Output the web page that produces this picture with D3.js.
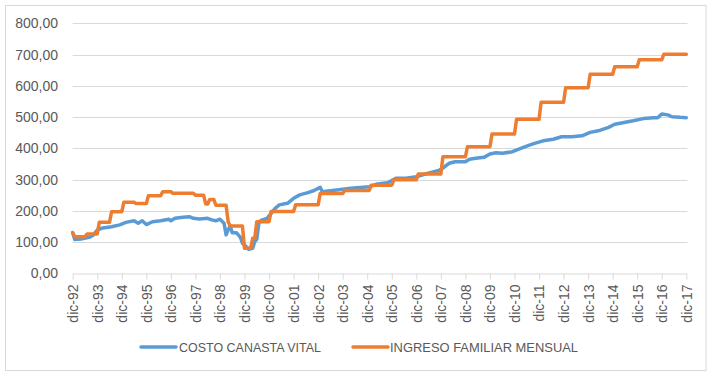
<!DOCTYPE html>
<html><head><meta charset="utf-8">
<script src="https://cdn.jsdelivr.net/npm/d3@7"></script>
<style>body{margin:0;background:#fff}svg{display:block}text{font-family:"Liberation Sans",Arial,sans-serif;fill:#595959}</style>
</head><body>
<svg id="c" width="718" height="378"></svg>
<script>
// Month index 0 = dic-92 ... 300 = dic-17
const tickLabels = ["dic-92","dic-93","dic-94","dic-95","dic-96","dic-97","dic-98","dic-99","dic-00","dic-01","dic-02","dic-03","dic-04","dic-05","dic-06","dic-07","dic-08","dic-09","dic-10","dic-11","dic-12","dic-13","dic-14","dic-15","dic-16","dic-17"];
const yTicks = [0,100,200,300,400,500,600,700,800];

// COSTO CANASTA VITAL (month index, value)
const costoMes = [0,1,4,8,10,12,14,19,23,26,30,32,34,36,39,43,47,48,50,54,57,59,62,66,68,70,72,74,75,76,77,78,80,82,83,84,86,88,89,90,91,92,95,97,99,101,105,108,111,115,118,121,122,126,132,136,145,149,154,158,163,168,172,179,181,184,187,192,194,197,201,204,207,210,215,220,225,230,235,239,244,249,253,257,262,265,269,274,279,284,286,288,291,293,297,300];
const costoValor = [130,108,110,115,122,138,144,149,155,163,168,160,168,156,165,168,173,168,176,179,181,176,174,176,171,168,173,160,123,139,152,130,130,115,96,91,77,80,101,109,160,169,176,192,208,219,224,240,251,258,265,275,261,264,269,272,277,286,290,304,304,309,317,329,337,352,357,357,365,368,371,382,386,384,389,402,414,424,429,437,437,440,451,456,467,477,482,488,495,498,498,510,507,501,499,498];

// INGRESO FAMILIAR MENSUAL (month where a new level starts, level)
const ingresoInicio = [0,1,7,13,19,25,31,37,44,49,60,65,67,70,76,77,84,88,90,97,109,121,133,146,157,169,181,193,205,217,229,241,253,265,277,289];
const ingresoNivel = [130,117,126,163,197,227,223,248,261,256,250,222,236,218,165,151,80,112,165,198,219,255,265,282,299,318,373,405,446,493,547,594,637,661,683,701];
const totalMeses = 300;

const svg = d3.select("#c");
svg.append("rect").attr("x",5.5).attr("y",5.5).attr("width",700.5).attr("height",365)
  .attr("fill","#fff").attr("stroke","#D9D9D9");

const x = d3.scaleLinear().domain([0,totalMeses]).range([72.7,686.3]);
const y = d3.scaleLinear().domain([0,800]).range([273.3,23.3]);

// gridlines
svg.append("g").selectAll("line").data(yTicks.filter(d=>d>0)).join("line")
  .attr("x1",72.7).attr("x2",687.5).attr("y1",d=>Math.round(y(d))+0.5).attr("y2",d=>Math.round(y(d))+0.5)
  .attr("stroke","#D9D9D9").attr("stroke-width",1);

// y labels
svg.append("g").selectAll("text").data(yTicks).join("text")
  .attr("x",58).attr("y",d=>y(d)).attr("dy","0.36em").attr("text-anchor","end")
  .style("font-size","14px").text(d=>d3.format(".2f")(d).replace(".",","));

// x axis
const xAxis = d3.axisBottom(x).tickValues(tickLabels.map((_,i)=>i*12))
  .tickFormat((d,i)=>tickLabels[i]).tickSize(6).tickSizeOuter(0);
const gx = svg.append("g").attr("transform","translate(0,273.5)").call(xAxis);
gx.select(".domain").attr("stroke","#D9D9D9");
gx.selectAll(".tick line").attr("stroke","#D9D9D9");
gx.selectAll(".tick text").attr("transform","rotate(-90)").attr("x",-11).attr("y",0).attr("dy","0.35em")
  .attr("text-anchor","end").style("font-size","14px").style("font-family","'Liberation Sans',Arial,sans-serif").attr("fill","#595959");

// series
const costo = costoMes.map((m,i)=>[m,costoValor[i]]);
const ingreso = d3.range(0,totalMeses+1).map(m=>{
  let v = ingresoNivel[0];
  for(let k=0;k<ingresoInicio.length;k++) if(ingresoInicio[k]<=m) v = ingresoNivel[k];
  return [m,v];
});
const line = d3.line().x(d=>x(d[0])).y(d=>y(d[1]));
svg.append("path").datum(costo).attr("d",line).attr("fill","none")
  .attr("stroke","#5B9BD5").attr("stroke-width",3.5).attr("stroke-linejoin","round").attr("stroke-linecap","round");
svg.append("path").datum(ingreso).attr("d",line).attr("fill","none")
  .attr("stroke","#ED7D31").attr("stroke-width",3.5).attr("stroke-linejoin","round").attr("stroke-linecap","round");

// legend
const legend = [
  {name:"COSTO CANASTA VITAL", color:"#5B9BD5", x1:141, tx:179, w:142},
  {name:"INGRESO FAMILIAR MENSUAL", color:"#ED7D31", x1:353, tx:390, w:188}
];
const lg = svg.append("g");
legend.forEach(l=>{
  lg.append("line").attr("x1",l.x1).attr("x2",l.x1+35).attr("y1",347).attr("y2",347)
    .attr("stroke",l.color).attr("stroke-width",3.5).attr("stroke-linecap","round");
  lg.append("text").attr("x",l.tx).attr("y",347).attr("dy","0.36em").style("font-size","13px")
    .attr("textLength",l.w).attr("lengthAdjust","spacingAndGlyphs").text(l.name);
});
</script>
</body></html>
